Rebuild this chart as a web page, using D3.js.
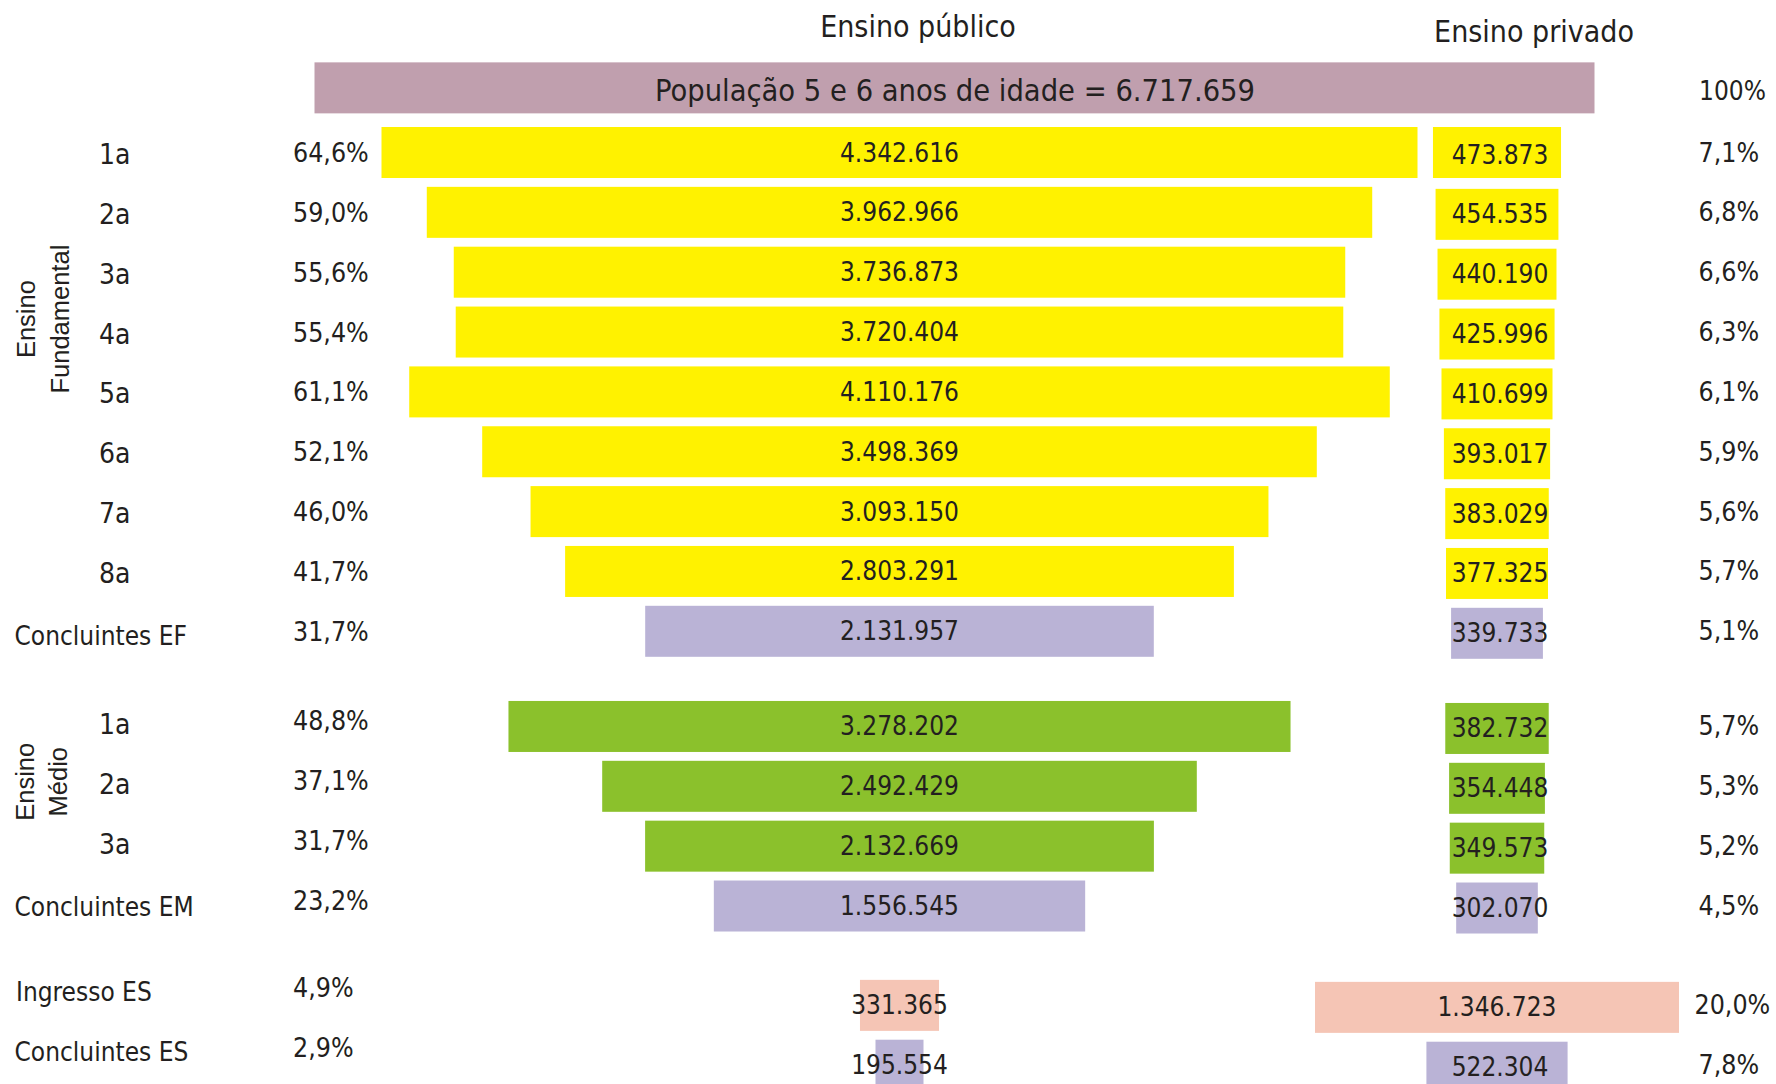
<!DOCTYPE html>
<html>
<head>
<meta charset="utf-8">
<script src="https://cdn.jsdelivr.net/npm/d3@7"></script>
<style>
  body { margin: 0; background: #fff; }
  svg text { font-family: "DejaVu Sans Condensed", "DejaVu Sans", sans-serif; font-stretch: condensed; fill: #231f20; }
  svg text.side { font-family: "Liberation Sans", Arial, sans-serif; font-stretch: normal; }
</style>
</head>
<body>
<script>
const rowLabels = ["1a", "2a", "3a", "4a", "5a", "6a", "7a", "8a", "Concluintes EF",
    "1a", "2a", "3a", "Concluintes EM", "Ingresso ES", "Concluintes ES"];
const rowSection = ["EF", "EF", "EF", "EF", "EF", "EF", "EF", "EF", "EF",
    "EM", "EM", "EM", "EM", "ES", "ES"];
const rowKind = ["serie", "serie", "serie", "serie", "serie", "serie", "serie", "serie", "conclusao",
    "serie", "serie", "serie", "conclusao", "ingresso", "conclusao"];
const publicValues = [4342616, 3962966, 3736873, 3720404, 4110176, 3498369, 3093150, 2803291, 2131957,
    3278202, 2492429, 2132669, 1556545, 331365, 195554];
const privateValues = [473873, 454535, 440190, 425996, 410699, 393017, 383029, 377325, 339733,
    382732, 354448, 349573, 302070, 1346723, 522304];
const publicPct = ["64,6%", "59,0%", "55,6%", "55,4%", "61,1%", "52,1%", "46,0%", "41,7%", "31,7%",
    "48,8%", "37,1%", "31,7%", "23,2%", "4,9%", "2,9%"];
const privatePct = ["7,1%", "6,8%", "6,6%", "6,3%", "6,1%", "5,9%", "5,6%", "5,7%", "5,1%",
    "5,7%", "5,3%", "5,2%", "4,5%", "20,0%", "7,8%"];
const population = 6717659;
const populationPct = "100%";
const headers = ["Ensino público", "Ensino privado"];

const data = rowLabels.map((label, i) => ({
    label, section: rowSection[i], kind: rowKind[i],
    pub: publicValues[i], priv: privateValues[i],
    pubPct: publicPct[i], privPct: privatePct[i], slot: i
}));

const width = 1776, height = 1084;
const svg = d3.select('body').append('svg')
    .attr('width', width)
    .attr('height', height);

const fmt = d3.formatLocale({decimal: ",", thousands: ".", grouping: [3], currency: ["", ""]}).format(",d");

// bar widths: each side has its own scale, bars are centred
const pubCenter = 899.5, privCenter = 1497;
const xPub = d3.scaleLinear().domain([0, d3.max(publicValues)]).range([0, 1036]);
const xPriv = d3.scaleLinear().domain([0, d3.max(privateValues)]).range([0, 364]);
const xPop = d3.scaleLinear().domain([0, population]).range([0, 1280]);
const minW = 48;

// rows on a slot scale, with extra space between the school levels
const sectionGap = {EF: 0, EM: 0.59, ES: 1.25};
const yScale = d3.scaleLinear().domain([0, 1]).range([127, 186.85]);
const rowTop = d => yScale(d.slot + sectionGap[d.section]);
const barH = 51;
const labelOff = {EF: 37, EM: 33, ES: 19};
const pctOff = {EF: 35, EM: 29.5, ES: 17.5};

const colors = {EF: '#fff200', EM: '#8bc12c'};
const barColor = d => d.kind === 'serie' ? colors[d.section]
    : d.kind === 'ingresso' ? '#f5c5b5' : '#bab3d6';

// population bar
const popTop = yScale(-1.08);
svg.append('rect')
    .attr('x', 954.5 - xPop(population) / 2)
    .attr('y', popTop)
    .attr('width', xPop(population))
    .attr('height', barH)
    .attr('fill', '#c09fae');
svg.append('text')
    .attr('x', 955).attr('y', popTop + 39)
    .attr('text-anchor', 'middle')
    .style('font-size', '30.5px')
    .text(`População 5 e 6 anos de idade = ${fmt(population)}`);
svg.append('text')
    .attr('x', 1699).attr('y', popTop + 38)
    .style('font-size', '26px')
    .text(populationPct);

// headers
svg.append('text').attr('x', 918).attr('y', 36.5)
    .attr('text-anchor', 'middle').style('font-size', '30px').text(headers[0]);
svg.append('text').attr('x', 1534).attr('y', 41.5)
    .attr('text-anchor', 'middle').style('font-size', '30px').text(headers[1]);

// public bars
svg.selectAll('rect.pub')
    .data(data)
    .enter()
    .append('rect')
    .attr('class', 'pub')
    .attr('fill', barColor)
    .attr('x', d => pubCenter - Math.max(xPub(d.pub), minW) / 2)
    .attr('width', d => Math.max(xPub(d.pub), minW))
    .attr('y', rowTop)
    .attr('height', barH);

svg.selectAll('text.pubval')
    .data(data)
    .enter()
    .append('text')
    .attr('class', 'pubval')
    .attr('x', pubCenter)
    .attr('y', d => rowTop(d) + 34.5)
    .attr('text-anchor', 'middle')
    .style('font-size', '26px')
    .text(d => fmt(d.pub));

// private bars
svg.selectAll('rect.priv')
    .data(data)
    .enter()
    .append('rect')
    .attr('class', 'priv')
    .attr('fill', barColor)
    .attr('x', d => privCenter - xPriv(d.priv) / 2)
    .attr('width', d => xPriv(d.priv))
    .attr('y', d => rowTop(d) + (d.slot ? 2 : 0))
    .attr('height', barH);

svg.selectAll('text.privval')
    .data(data)
    .enter()
    .append('text')
    .attr('class', 'privval')
    .attr('x', d => d.priv > 1000000 ? privCenter : privCenter + 3)
    .attr('y', d => rowTop(d) + 2 + 34.5)
    .attr('text-anchor', 'middle')
    .style('font-size', '26px')
    .text(d => fmt(d.priv));

// row labels and percentages
svg.selectAll('text.rowlabel')
    .data(data)
    .enter()
    .append('text')
    .attr('class', 'rowlabel')
    .attr('x', d => d.kind === 'serie' ? 99 : (d.kind === 'ingresso' ? 16 : 14.5))
    .attr('y', d => rowTop(d) + labelOff[d.section] + (d.kind === 'serie' ? 0 : 2))
    .style('font-size', d => d.kind === 'serie' ? '28px' : '26px')
    .text(d => d.label);

svg.selectAll('text.pubpct')
    .data(data)
    .enter()
    .append('text')
    .attr('class', 'pubpct')
    .attr('x', 293)
    .attr('y', d => rowTop(d) + pctOff[d.section])
    .style('font-size', '26.5px')
    .text(d => d.pubPct);

svg.selectAll('text.privpct')
    .data(data)
    .enter()
    .append('text')
    .attr('class', 'privpct')
    .attr('x', d => d.privPct.length > 4 ? 1694.5 : 1698.5)
    .attr('y', d => rowTop(d) + 2 + 32.5)
    .style('font-size', '26.5px')
    .text(d => d.privPct);

// rotated level names
const sideLabels = [
    {lines: ["Ensino", "Fundamental"], y: yScale(3.21), x: [35, 69]},
    {lines: ["Ensino", "Médio"], y: yScale(10.94), x: [33.5, 66.5]}
];
sideLabels.forEach(s => {
    s.lines.forEach((line, k) => {
        svg.append('text')
            .attr('class', 'side')
            .attr('transform', `translate(${s.x[k]}, ${s.y}) rotate(-90)`)
            .attr('text-anchor', 'middle')
            .style('font-size', '25.5px')
            .text(line);
    });
});
</script>
</body>
</html>
